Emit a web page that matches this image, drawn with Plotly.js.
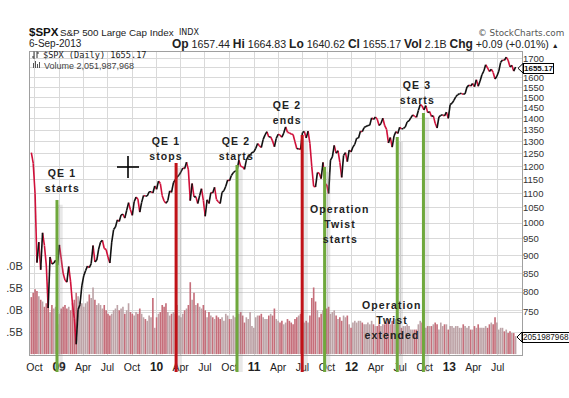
<!DOCTYPE html>
<html><head><meta charset="utf-8">
<script src="https://cdn.plot.ly/plotly-3.0.1.min.js"></script>
<style>
html,body{margin:0;padding:0;background:#fff;overflow:hidden}
#chart{width:569px;height:398px}
</style></head><body><div id="chart"></div>
<script>
// ---- weekly S&P 500 closes (week ending Fridays, from 2008-09-19) ----
const close2008 = [1255,1213,1099,880,940,860,969,930,873,760,896,876,879,887,873];
const close2009 = [932,890,850,832,826,869,827,770,735,676,756,768,816,843,857,870,866,877,930,882,887,919,940,946,921,918,896,879,940,979,987,1010,1005,1026,1029,1016,1042,1068,1044,1025,1071,1087,1080,1036,1069,1093,1091,1091,1106,1106,1102,1127];
const close2010 = [1115,1145,1136,1092,1074,1066,1075,1109,1104,1139,1150,1160,1167,1179,1194,1192,1217,1187,1075,1136,1088,1089,1065,1092,1117,1076,1022,1078,1065,1103,1102,1122,1079,1071,1065,1104,1110,1126,1149,1146,1166,1176,1183,1183,1225,1200,1199,1189,1225,1240,1244,1256,1258];
const close2011 = [1272,1293,1283,1276,1310,1329,1343,1320,1321,1304,1279,1314,1332,1328,1319,1337,1364,1340,1338,1333,1331,1300,1271,1271,1268,1339,1344,1316,1345,1292,1199,1125,1124,1177,1174,1154,1216,1136,1131,1100,1225,1238,1285,1253,1263,1216,1159,1244,1255,1219,1265,1258];
const close2012 = [1278,1289,1315,1316,1345,1343,1361,1366,1370,1371,1404,1397,1408,1398,1370,1379,1403,1369,1353,1295,1318,1278,1325,1343,1335,1362,1355,1357,1363,1386,1391,1405,1418,1411,1407,1438,1466,1460,1441,1461,1428,1433,1411,1414,1380,1359,1409,1416,1418,1413,1430,1402];
const close2013 = [1466,1472,1486,1503,1513,1518,1520,1515,1518,1551,1561,1556,1569,1553,1588,1555,1582,1614,1633,1667,1650,1631,1643,1626,1592,1606,1632,1680,1692,1691,1709,1691,1656,1664,1633,1655];

// ---- weekly volume (billions) ----
const vol2008 = [6.5,7.0,7.4,7.2,6.6,6.2,6.0,5.4,5.8,6.8,4.8,5.6,5.2,5.4,3.4];
const vol2009 = [4.6,5.2,5.4,5.6,5.2,5.4,5.0,5.8,6.2,7.0,6.6,6.0,5.8,5.4,5.8,6.0,6.8,6.4,7.6,6.2,5.6,5.8,5.6,5.2,5.6,5.0,4.6,4.4,4.6,5.0,5.2,5.6,5.0,5.2,5.4,4.6,5.0,5.8,4.8,4.6,4.4,4.8,4.6,5.2,4.6,4.2,4.0,3.8,4.4,4.2,6.4,3.0];
const vol2010 = [4.2,4.6,4.8,5.6,5.4,5.8,4.8,4.4,4.6,4.8,4.6,5.6,4.4,4.2,4.6,5.0,5.2,5.6,8.2,6.2,7.0,5.6,5.8,5.4,5.2,5.6,5.0,4.2,4.8,4.4,4.2,4.0,4.4,4.2,4.0,4.2,3.8,4.6,4.4,4.0,4.0,4.4,4.2,4.4,4.6,4.8,4.4,3.6,4.2,4.0,4.8,3.2,3.0];
const vol2011 = [4.2,4.4,4.4,4.6,4.2,4.0,4.0,4.4,4.6,4.4,5.2,4.0,3.8,3.6,3.8,3.4,3.6,4.0,3.8,3.6,3.4,4.0,4.2,4.4,4.6,3.8,3.6,3.8,3.6,4.4,6.4,7.6,6.0,5.0,4.2,4.6,5.0,6.0,5.2,5.4,4.6,4.8,5.0,4.4,4.0,4.2,3.8,4.4,4.2,4.4,3.4,3.0];
const vol2012 = [3.6,3.8,3.6,3.8,3.8,3.6,3.4,3.4,3.6,3.4,3.8,3.4,3.2,3.2,3.4,3.2,3.4,3.4,3.6,4.0,3.4,3.8,3.4,4.0,3.6,3.6,3.0,3.2,3.2,3.4,3.2,2.8,2.8,2.8,2.8,3.4,3.8,3.6,3.0,3.0,3.2,3.2,3.2,3.4,3.6,3.4,2.8,3.6,3.2,3.4,3.4,2.8];
const vol2013 = [3.2,3.2,3.0,3.2,3.2,3.0,3.0,3.4,3.2,3.0,3.2,2.8,2.8,3.2,3.0,3.4,3.0,3.0,3.0,3.2,3.0,3.4,3.6,3.4,4.2,3.6,2.8,3.0,3.0,2.6,2.8,2.4,2.6,2.4,2.4,2.05];

// ---- axes ----
const quarterTicks = ['2008-10-01','2009-01-01','2009-04-01','2009-07-01','2009-10-01','2010-01-01','2010-04-01','2010-07-01','2010-10-01','2011-01-01','2011-04-01','2011-07-01','2011-10-01','2012-01-01','2012-04-01','2012-07-01','2012-10-01','2013-01-01','2013-04-01','2013-07-01'];
const quarterLabels = ['Oct','09','Apr','Jul','Oct','10','Apr','Jul','Oct','11','Apr','Jul','Oct','12','Apr','Jul','Oct','13','Apr','Jul'];
const priceTicks = [750,800,850,900,950,1000,1050,1100,1150,1200,1250,1300,1350,1400,1450,1500,1550,1600,1650,1700];
const priceTickLabels = ['750','800','850','900','950','1000','1050','1100','1150','1200','1250','1300','1350','1400','1450','1500','1550','1600','','1700'];
const volTicks = [2.5,5,7.5,10];
const volTickLabels = ['.5B','.0B','.5B','.0B'];

// ---- events ----
const eventDates = ['2008-12-24','2010-03-15','2010-10-29','2011-06-30','2011-09-22','2012-06-20','2012-09-26'];
const eventTops = [1077,1214,1206,1329,1198,1320,1427];
const eventKinds = ['start','stop','start','stop','start','start','start'];
const eventLabels = [['QE 1','starts'],['QE 1','stops'],['QE 2','starts'],['QE 2','ends'],['Operation','Twist','starts'],['Operation','Twist','extended'],['QE 3','starts']];
const lastClose = '1655.17';
const lastVolume = '2051987968';

// ---- layout helpers (pixel -> paper) ----
const W=569,H=398,L=30,R=47,T=52,B=43;
const PW=W-L-R, PH=H-T-B;
const px=p=>(p-L)/PW, py=p=>(H-B-p)/PH;
const labelPos = [[62,173],[166,141],[236,141],[287,105],[340,209],[392,305],[417,85]];

function weekDate(i){return new Date(Date.UTC(2008,8,19)+i*7*86400000).toISOString().slice(0,10);}
function shiftDate(d,days){return new Date(new Date(d+'T00:00:00Z').getTime()+days*86400000).toISOString().slice(0,10);}

const closes=[].concat(close2008,close2009,close2010,close2011,close2012,close2013);
const vols=[].concat(vol2008,vol2009,vol2010,vol2011,vol2012,vol2013);
const dates=closes.map((_,i)=>weekDate(i));

const upX=[],upY=[],dnX=[],dnY=[];
for(let i=1;i<closes.length;i++){
  const up=closes[i]>=closes[i-1];
  (up?upX:dnX).push(dates[i-1],dates[i],null);
  (up?upY:dnY).push(closes[i-1],closes[i],null);
}
const volColors=vols.map((v,i)=> (i>0 && closes[i]>=closes[i-1]) ? '#bda3a7' : '#c56e7a');

const traces=[
  {type:'bar',x:dates,y:vols,yaxis:'y',marker:{color:volColors,line:{width:0}},hoverinfo:'skip'},
  {type:'scatter',mode:'lines',x:dnX,y:dnY,yaxis:'y2',line:{color:'#d0103a',width:1.6},connectgaps:false,hoverinfo:'skip'},
  {type:'scatter',mode:'lines',x:upX,y:upY,yaxis:'y2',line:{color:'#111',width:1.6},connectgaps:false,hoverinfo:'skip'}
];

const shapes=[];
const annotations=[];
const F='Liberation Sans, Arial, sans-serif';
eventDates.forEach((d,i)=>{
  const col = eventKinds[i]==='start' ? '#6fa83c' : '#c01218';
  const sd = shiftDate(d,12);
  shapes.push({type:'line',xref:'x',yref:'y2',x0:sd,x1:sd,y0:eventTops[i]*0.985,y1:500,line:{color:'rgba(150,150,150,0.22)',width:5}});
  shapes.push({type:'line',xref:'x',yref:'paper',x0:sd,x1:sd,y0:0,y1:py(372),line:{color:'rgba(150,150,150,0.22)',width:5}});
  shapes.push({type:'line',xref:'x',yref:'y2',x0:d,x1:d,y0:eventTops[i],y1:500,line:{color:col,width:3}});
  shapes.push({type:'line',xref:'x',yref:'paper',x0:d,x1:d,y0:0,y1:py(372),line:{color:col,width:3}});
  eventLabels[i].forEach((t,j)=>{
    annotations.push({xref:'paper',yref:'paper',x:px(labelPos[i][0]),y:py(labelPos[i][1]+15*j),text:'<b>'+t+'</b>',showarrow:false,xanchor:'center',yanchor:'middle',font:{family:F,size:10.5,color:'#222'},_ev:true});
  });
});
// cursor cross
shapes.push({type:'line',xref:'paper',yref:'paper',x0:px(117),x1:px(139),y0:py(167),y1:py(167),line:{color:'#000',width:1.6}});
shapes.push({type:'line',xref:'paper',yref:'paper',x0:px(128),x1:px(128),y0:py(156),y1:py(178),line:{color:'#000',width:1.6}});
// legend icons
shapes.push({type:'line',xref:'paper',yref:'paper',x0:px(34),x1:px(34),y0:py(51.5),y1:py(59),line:{color:'#333',width:1}});
shapes.push({type:'line',xref:'paper',yref:'paper',x0:px(32),x1:px(34),y0:py(57),y1:py(57),line:{color:'#333',width:1}});
shapes.push({type:'line',xref:'paper',yref:'paper',x0:px(37),x1:px(37),y0:py(51.5),y1:py(58),line:{color:'#333',width:1}});
shapes.push({type:'line',xref:'paper',yref:'paper',x0:px(37),x1:px(39),y0:py(53),y1:py(53),line:{color:'#333',width:1}});
[33,35,37,39].forEach((x,k)=>shapes.push({type:'rect',xref:'paper',yref:'paper',x0:px(x),x1:px(x+1),y0:py(68),y1:py([63,61,64,62][k]),line:{width:0},fillcolor:'#555'}));
// price / volume callout pointers
shapes.push({type:'path',xref:'paper',yref:'paper',path:`M ${px(518)} ${py(68.3)} L ${px(523)} ${py(63.5)} L ${px(523)} ${py(73)} Z`,fillcolor:'#fff',line:{color:'#000',width:1}});
shapes.push({type:'path',xref:'paper',yref:'paper',path:`M ${px(517)} ${py(337)} L ${px(522)} ${py(332)} L ${px(522)} ${py(342)} Z`,fillcolor:'#fff',line:{color:'#000',width:1}});

annotations.push(
 {xref:'paper',yref:'paper',x:px(27),y:py(32),xanchor:'left',yanchor:'middle',showarrow:false,text:'<b>$SPX</b>',font:{family:F,size:11.5,color:'#111'}},
 {xref:'paper',yref:'paper',x:px(58),y:py(32.5),xanchor:'left',yanchor:'middle',showarrow:false,text:'S&amp;P 500 Large Cap Index',font:{family:F,size:9.8,color:'#222'}},
 {xref:'paper',yref:'paper',x:px(177),y:py(32.5),xanchor:'left',yanchor:'middle',showarrow:false,text:'INDX',font:{family:'DejaVu Sans, sans-serif',size:8,color:'#222'}},
 {xref:'paper',yref:'paper',x:px(566),y:py(33),xanchor:'right',yanchor:'middle',showarrow:false,text:'© StockCharts.com',font:{family:'DejaVu Sans, sans-serif',size:8.8,color:'#555'}},
 {xref:'paper',yref:'paper',x:px(27),y:py(44),xanchor:'left',yanchor:'middle',showarrow:false,text:'6-Sep-2013',font:{family:F,size:10,color:'#222'}},
 {xref:'paper',yref:'paper',x:px(561),y:py(44),xanchor:'right',yanchor:'middle',showarrow:false,
  text:'<b style="font-size:12px">Op</b> 1657.44 <b style="font-size:12px">Hi</b> 1664.83 <b style="font-size:12px">Lo</b> 1640.62 <b style="font-size:12px">Cl</b> 1655.17 <b style="font-size:12px">Vol</b> 2.1B <b style="font-size:12px">Chg</b> +0.09 (+0.01%) <span style="font-size:7px">▲</span>',
  font:{family:F,size:10.6,color:'#222'}},
 {xref:'paper',yref:'paper',x:px(41),y:py(55.5),xanchor:'left',yanchor:'middle',showarrow:false,text:'$SPX (Daily) 1655.17',font:{family:'DejaVu Sans Mono, monospace',size:8.6,color:'#222'}},
 {xref:'paper',yref:'paper',x:px(42),y:py(65.5),xanchor:'left',yanchor:'middle',showarrow:false,text:'Volume 2,051,987,968',font:{family:F,size:9,color:'#444'}},
 {xref:'paper',yref:'paper',x:px(523),y:py(68.3),xanchor:'left',yanchor:'middle',showarrow:false,text:'<b>'+lastClose+'</b>',font:{family:F,size:8,color:'#111'},bgcolor:'#fff',bordercolor:'#000',borderwidth:1,borderpad:0},
 {xref:'paper',yref:'paper',x:px(522),y:py(337),xanchor:'left',yanchor:'middle',showarrow:false,text:lastVolume,font:{family:F,size:8.2,color:'#111'},bgcolor:'#fff',bordercolor:'#000',borderwidth:1,borderpad:0}
);

const layout={
  width:W,height:H,margin:{l:L,r:R,t:T,b:B,pad:0},
  paper_bgcolor:'#fff',plot_bgcolor:'#fff',showlegend:false,bargap:0.12,hovermode:false,
  xaxis:{type:'date',range:['2008-09-14','2013-09-30'],tickmode:'array',tickvals:quarterTicks,
    ticktext:quarterLabels.map(t=>/^\d/.test(t)?'<b style="font-size:12px">'+t+'</b>':t),
    showgrid:true,gridcolor:'#d9d9d9',gridwidth:1,zeroline:false,showline:true,mirror:true,linecolor:'#a0a0a0',linewidth:1,
    ticks:'',tickfont:{family:F,size:10.5,color:'#222'},ticklabelstandoff:2},
  yaxis:{range:[-0.1,34.45],side:'left',tickmode:'array',tickvals:volTicks,ticktext:volTickLabels,
    showgrid:true,gridcolor:'#dedede',zeroline:false,showline:true,mirror:true,linecolor:'#a0a0a0',ticks:'',
    tickfont:{family:F,size:11,color:'#333'},ticklabelstandoff:4},
  yaxis2:{type:'log',overlaying:'y',side:'right',range:[2.8149,3.2398],tickmode:'array',tickvals:priceTicks,ticktext:priceTickLabels,
    showgrid:true,gridcolor:'#d9d9d9',zeroline:false,showline:false,ticks:'',
    tickfont:{family:F,size:9.5,color:'#333'},ticklabelstandoff:0},
  shapes:shapes,
  annotations:annotations.map(a=>{const b=Object.assign({},a);delete b._ev;return b;})
};

Plotly.newPlot('chart',traces,layout,{staticPlot:true,displayModeBar:false}).then(gd=>{
  const evIdx=[];annotations.forEach((a,i)=>{if(a._ev)evIdx.push(i);});
  const st=document.createElement('style');
  st.textContent=evIdx.map(i=>`g.annotation[data-index="${i}"] text`).join(',')+'{letter-spacing:1.1px}';
  document.head.appendChild(st);
});
</script></body></html>
